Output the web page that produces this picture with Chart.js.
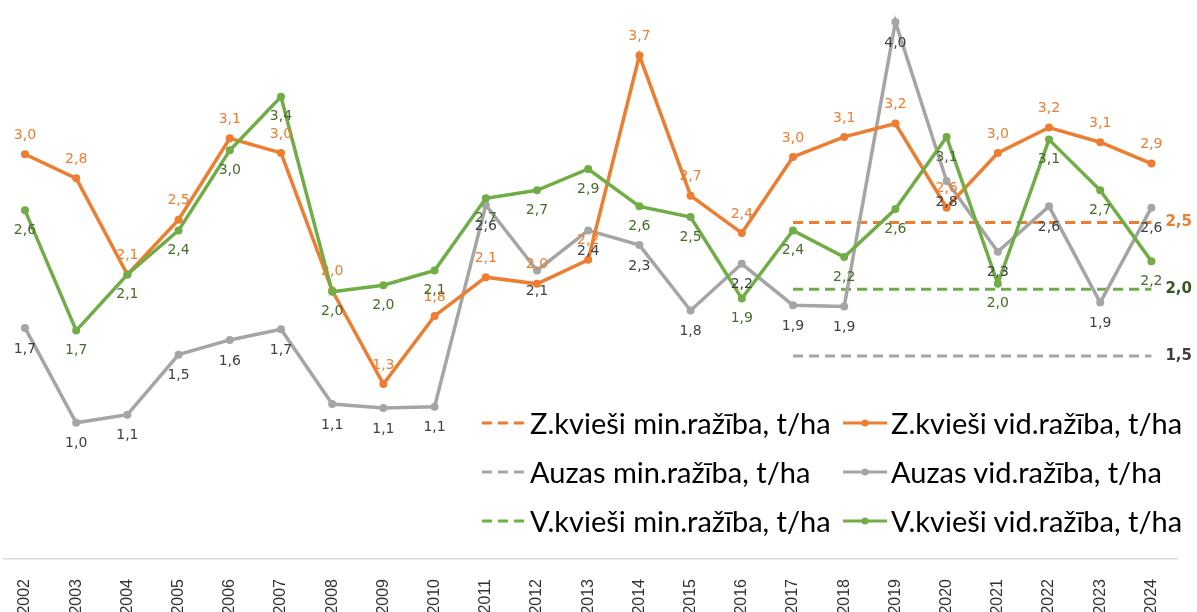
<!DOCTYPE html>
<html>
<head>
<meta charset="utf-8">
<script src="https://cdn.jsdelivr.net/npm/chart.js@4.4.1/dist/chart.umd.min.js"></script>
<style>
body { margin: 0; background: #fff; }
#wrap { position: relative; width: 1197px; height: 612px; }
#legend { position: absolute; left: 482px; top: 398px; display: grid; grid-template-columns: 361px auto; grid-auto-rows: 49px; font: 29px Lato, sans-serif; color: #000; }
.item { display: flex; align-items: center; white-space: nowrap; }
.item svg { margin-right: 4px; }
</style>
</head>
<body>
<div id="wrap"><canvas id="c" width="1197" height="612"></canvas><div id="legend"></div></div>
<script>
const years = [2002, 2003, 2004, 2005, 2006, 2007, 2008, 2009, 2010, 2011, 2012, 2013,
               2014, 2015, 2016, 2017, 2018, 2019, 2020, 2021, 2022, 2023, 2024];

// vidējā ražība, t/ha
const zVid = [3.01, 2.83, 2.11, 2.52, 3.13, 3.02, 1.99, 1.29, 1.80, 2.09, 2.04, 2.22,
              3.749, 2.70, 2.42, 2.99, 3.14, 3.24, 2.61, 3.02, 3.21, 3.10, 2.94];
const aVid = [1.71, 1.00, 1.06, 1.51, 1.62, 1.70, 1.14, 1.11, 1.12, 2.63, 2.14, 2.44,
              2.33, 1.84, 2.19, 1.88, 1.87, 4.00, 2.81, 2.28, 2.62, 1.90, 2.61];
const vVid = [2.59, 1.69, 2.11, 2.44, 3.04, 3.44, 1.98, 2.03, 2.14, 2.68, 2.74, 2.90,
              2.62, 2.54, 1.93, 2.44, 2.24, 2.60, 3.14, 2.04, 3.12, 2.74, 2.21];

// minimālā ražība, t/ha
const minYears = [2017, 2018, 2019, 2020, 2021, 2022, 2023, 2024];
const zMin = [2.5, 2.5, 2.5, 2.5, 2.5, 2.5, 2.5, 2.5];
const aMin = [1.5, 1.5, 1.5, 1.5, 1.5, 1.5, 1.5, 1.5];
const vMin = [2.0, 2.0, 2.0, 2.0, 2.0, 2.0, 2.0, 2.0];

const names = [
  'Z.kvieši min.ražība, t/ha', 'Z.kvieši vid.ražība, t/ha',
  'Auzas min.ražība, t/ha', 'Auzas vid.ražība, t/ha',
  'V.kvieši min.ražība, t/ha', 'V.kvieši vid.ražība, t/ha'
];

const ORANGE = '#ED7D31', GRAY = '#A5A5A5', GREEN = '#70AD47';

function pts(xs, ys) {
  return xs.map((x, i) => ({ x: x, y: ys[i] }));
}
function fmt(v) {
  return v.toFixed(1).replace('.', ',');
}

function minLine(label, xs, ys, color, textColor) {
  return {
    label: label, data: pts(xs, ys), borderColor: color, backgroundColor: color,
    borderWidth: 3, borderDash: [10, 6], pointRadius: 0, order: 5, dashed: true,
    pl: { color: textColor, font: 'bold 15px "DejaVu Sans"', dx: 14, dy: 0, align: 'left', last: true }
  };
}
function vidLine(label, ys, color, textColor, dy, order) {
  return {
    label: label, data: pts(years, ys), borderColor: color, backgroundColor: color,
    borderWidth: 3.5, pointRadius: 4, pointBorderWidth: 0, order: order,
    pl: { color: textColor, font: '14px "DejaVu Sans"', dx: 0, dy: dy, align: 'center' }
  };
}

const labelPlugin = {
  id: 'pointLabels',
  afterDatasetsDraw(chart) {
    const ctx = chart.ctx;
    chart.data.datasets.forEach((ds, i) => {
      const st = ds.pl;
      const meta = chart.getDatasetMeta(i);
      ctx.save();
      ctx.fillStyle = st.color;
      ctx.font = st.font;
      ctx.textAlign = st.align;
      ctx.textBaseline = 'middle';
      meta.data.forEach((el, j) => {
        if (st.last && j !== meta.data.length - 1) return;
        ctx.fillText(fmt(ds.data[j].y), el.x + st.dx, el.y + st.dy);
      });
      ctx.restore();
    });
  }
};

const chart = new Chart(document.getElementById('c').getContext('2d'), {
  type: 'line',
  data: {
    datasets: [
      minLine(names[0], minYears, zMin, ORANGE, ORANGE),
      vidLine(names[1], zVid, ORANGE, ORANGE, -19, 2),
      minLine(names[2], minYears, aMin, GRAY, '#404040'),
      vidLine(names[3], aVid, GRAY, '#404040', 21, 3),
      minLine(names[4], minYears, vMin, GREEN, '#375623'),
      vidLine(names[5], vVid, GREEN, '#476B2C', 20, 1)
    ]
  },
  options: {
    responsive: false,
    animation: false,
    devicePixelRatio: 1,
    layout: { padding: { left: 0, right: 20, top: 0, bottom: 0 } },
    plugins: { legend: { display: false }, tooltip: { enabled: false } },
    scales: {
      x: {
        type: 'linear', position: 'bottom', min: 2001.59, max: 2024.5,
        grid: { display: false },
        border: { display: true, color: '#D9D9D9', width: 1.5 },
        afterBuildTicks: (scale) => { scale.ticks = years.map(y => ({ value: y })); },
        afterFit: (scale) => { scale.height = 53; },
        ticks: {
          autoSkip: false, minRotation: 90, maxRotation: 90, padding: 12,
          color: '#333', font: { family: 'Liberation Sans', size: 16 },
          callback: (v) => String(v)
        }
      },
      y: { display: false, min: -0.02, max: 4.135 }
    }
  },
  plugins: [labelPlugin]
});

// legend built from the chart datasets
const legend = document.getElementById('legend');
chart.data.datasets.forEach((ds) => {
  const item = document.createElement('div');
  item.className = 'item';
  let svg = '<svg width="44" height="12">';
  if (ds.dashed) {
    svg += '<line x1="0" y1="6" x2="44" y2="6" stroke="' + ds.borderColor + '" stroke-width="3" stroke-dasharray="10 6"/>';
  } else {
    svg += '<line x1="0" y1="6" x2="44" y2="6" stroke="' + ds.borderColor + '" stroke-width="3"/>' +
           '<circle cx="22" cy="6" r="3.5" fill="' + ds.borderColor + '"/>';
  }
  svg += '</svg>';
  item.innerHTML = svg + '<span>' + ds.label + '</span>';
  legend.appendChild(item);
});
</script>
</body>
</html>
